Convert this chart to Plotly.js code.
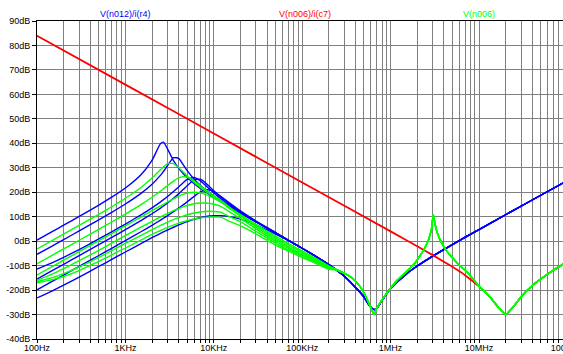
<!DOCTYPE html>
<html><head><meta charset="utf-8">
<script src="https://cdn.plot.ly/plotly-3.0.1.min.js"></script>
<style>html,body{margin:0;padding:0;overflow:hidden;background:#fff}#chart{width:620px;height:354px}</style>
</head><body><div id="chart"></div>
<script>
// shared low-frequency grid (Hz)
const freqLow = [100,150,200,300,500,700,1000,1500,2000,2500,2700,3000,3500,4000,4500,5000,6000,7000,8000,9000,10000,12000,15000,20000,30000,50000,70000,100000,150000,200000];

// V(n012)/i(r4) steps (dB)
const blue1 = [0.45,3.99,6.51,10.09,14.73,17.97,21.72,27.14,33.03,39.89,40.47,37.64,32.91,29.84,27.68,26.01,23.52,21.67,20.2,18.97,17.9,16.13,14.04,11.43,7.83,3.34,0.3,-2.9,-6.7,-9.6];
const blue2 = [-5.42,-1.89,0.62,4.18,8.71,11.79,15.18,19.52,23.26,26.99,28.55,30.92,34.13,33.8,31.25,28.84,25.34,22.93,21.13,19.69,18.47,16.52,14.29,11.56,7.89,3.37,0.3,-2.9,-6.7,-9.6];
const blue3 = [-11.4,-8.8,-6.68,-3.42,0.9,3.8,6.97,10.76,13.63,16.06,16.96,18.24,20.27,22.17,23.87,25.21,26.05,24.75,22.9,21.19,19.73,17.37,14.85,11.88,8.03,3.43,0.3,-2.9,-6.7,-9.6];
const blue4 = [-15.48,-11.96,-9.46,-5.92,-1.45,1.52,4.68,8.42,11.21,13.53,14.38,15.6,17.52,19.33,21.07,22.69,25.07,25.33,23.94,22.18,20.58,18.04,15.21,12.08,8.11,3.44,0.3,-2.9,-6.7,-9.6];
const blue5 = [-19.88,-16.36,-13.86,-10.33,-5.87,-2.92,0.24,3.84,6.48,8.6,9.36,10.41,12.04,13.49,14.83,16.09,18.31,20.0,20.89,20.9,20.28,18.35,15.64,12.37,8.24,3.5,0.3,-2.9,-6.7,-9.6];
const blue6 = [-23.2,-20.29,-18.01,-14.67,-10.35,-7.49,-4.43,-1.0,1.4,3.16,3.79,4.56,5.69,6.61,7.36,7.99,8.94,9.59,10.02,10.28,10.41,10.42,10.04,8.99,6.65,2.91,0.2,-2.9,-6.7,-9.6];

// V(n006) steps (dB)
const green1 = [-3.18,0.36,2.88,6.44,10.98,14.06,17.53,21.95,25.79,29.26,30.43,31.67,31.71,30.11,28.25,26.61,23.98,22.04,20.5,19.18,18.09,16.26,13.82,10.87,6.84,2.05,-1.0,-4.0,-7.5,-10.1];
const green2 = [-9.21,-5.67,-3.17,0.37,4.85,7.83,11.08,14.96,17.96,20.5,21.47,22.72,24.56,25.85,26.39,26.2,24.65,22.81,21.18,19.77,18.55,16.61,13.86,10.71,6.4,1.37,-1.7,-4.6,-7.9,-10.4];
const green3 = [-13.82,-10.29,-7.79,-4.27,0.18,3.12,6.25,9.83,12.48,14.4,15.09,16.01,17.31,18.34,19.11,19.63,20.0,19.73,19.11,18.34,17.54,16.01,13.37,10.26,5.86,0.66,-2.4,-5.2,-8.3,-10.6];
const green4 = [-16.05,-13.37,-11.2,-7.97,-3.74,-0.83,2.24,5.7,8.1,9.91,10.51,11.33,12.44,13.33,14.03,14.58,15.28,15.57,15.57,15.38,15.07,14.26,12.01,9.33,5.03,-0.05,-3.0,-5.7,-8.7,-10.9];
const green5 = [-16.52,-14.88,-13.3,-10.57,-6.62,-3.86,-0.9,2.38,4.69,6.42,7.01,7.77,8.8,9.61,10.26,10.78,11.5,11.93,12.14,12.2,12.15,11.85,10.01,7.88,4.01,-0.87,-3.6,-6.2,-9.1,-11.2];
const green6 = [-17.0,-15.74,-14.44,-12.02,-8.31,-5.64,-2.8,0.47,2.8,4.36,4.92,5.63,6.59,7.34,7.93,8.41,9.08,9.5,9.74,9.86,9.9,9.8,8.08,6.31,2.9,-1.6,-4.1,-6.7,-9.5,-11.5];

// high-frequency parts common to every step
const freqBlueTail = [250000,300000,400000,500000,550000,600000,650000,700000,800000,1e6,1.5e6,2e6,3e6,5e6,1e7,2e7,5e7,1e8];
const blueTail = [-12.05,-14.32,-18.87,-22.85,-25.2,-27.1,-28,-27.3,-24.2,-19.35,-13.5,-10.17,-6.09,-1.39,4.75,10.8,18.76,24.8];
const freqGreenTail = [250000,300000,350000,400000,450000,500000,550000,600000,650000,700000,800000,1e6,1.2e6,1.5e6,1.8e6,2.1e6,2.4e6,2.7e6,2.9e6,3.04e6,3.2e6,3.4e6,3.7e6,4.2e6,5e6,6e6,7.5e6,1e7,1.3e7,1.6e7,2e7,2.5e7,3e7,4e7,5e7,7e7,1e8];
const greenTail = [-11.8,-13.2,-14.5,-16.3,-18.5,-21.2,-24.2,-27.3,-30,-27.3,-24,-19.2,-15.8,-12.5,-9.8,-6.5,-3.2,0.8,5,10.8,6.5,3,0,-3.5,-6.8,-9.8,-13,-18.3,-22.3,-26.4,-30,-26.4,-22.7,-18.2,-15.5,-11.8,-8.4];

// V(n006)/i(c7) (dB)
const freqRed = [100,1e3,1e4,1e5,1e6,2e6,3e6,5e6,7e6,1e7,1.3e7,1.6e7,2e7,2.5e7,3e7,4e7,5e7,7e7,1e8];
const red = [84.0,64.0,44.0,24.0,4.0,-2.1,-5.7,-10.5,-14.0,-18.5,-22.5,-26.4,-30,-26.4,-22.7,-18.2,-15.5,-11.8,-8.4];

// axis ticks
const xTickVals = [];
const xTickText = [];
const decadeLabels = ['100Hz','1KHz','10KHz','100KHz','1MHz','10MHz','100MHz'];
for (let d = 0; d < decadeLabels.length; d++) {
  for (let m = 1; m <= 9; m++) {
    xTickVals.push(m * Math.pow(10, d + 2));
    xTickText.push(m === 1 ? decadeLabels[d] : '');
  }
}
const yTickVals = [-40,-30,-20,-10,0,10,20,30,40,50,60,70,80,90];
const yTickText = ['-40dB','-30dB','-20dB','-10dB','0dB','10dB','20dB','30dB','40dB','50dB','60dB','70dB','80dB','90dB'];

const BLUE = '#0000ff', RED = '#ff0000', GREEN = '#00ff00';
const traces = [];
function stepTrace(lowVals, tailF, tailV, color) {
  return {x: freqLow.concat(tailF), y: lowVals.concat(tailV), type: 'scatter', mode: 'lines',
          line: {color: color, width: 1.4, shape: 'spline', smoothing: 0.5}, hoverinfo: 'skip'};
}
[blue1, blue2, blue3, blue4, blue5, blue6].forEach(v => traces.push(stepTrace(v, freqBlueTail, blueTail, BLUE)));
traces.push({x: freqRed, y: red, type: 'scatter', mode: 'lines', line: {color: RED, width: 1.8, shape: 'spline', smoothing: 0.3}, hoverinfo: 'skip'});
[green1, green2, green3, green4, green5, green6].forEach(v => traces.push(stepTrace(v, freqGreenTail, greenTail, GREEN)));

const PX_PER_DEC = 88.4;
const layout = {
  width: 620, height: 354,
  margin: {l: 37, r: 20, t: 21, b: 15, pad: 0},
  paper_bgcolor: '#ffffff', plot_bgcolor: '#ffffff',
  showlegend: false,
  font: {family: '"Liberation Sans", Arial, sans-serif', size: 9, color: '#000000'},
  xaxis: {type: 'log', range: [2, 2 + 563 / PX_PER_DEC], tickmode: 'array', tickvals: xTickVals, ticktext: xTickText,
          ticks: 'outside', ticklen: 3, tickcolor: '#000', tickwidth: 1, ticklabelstandoff: -3,
          showgrid: true, gridcolor: '#808080', gridwidth: 1, zeroline: false,
          showline: true, linecolor: '#000', linewidth: 1, mirror: true, tickfont: {size: 9}},
  yaxis: {range: [-40, 90], tickmode: 'array', tickvals: yTickVals, ticktext: yTickText,
          ticks: 'outside', ticklen: 4, tickcolor: '#000', tickwidth: 1,
          showgrid: true, gridcolor: '#808080', gridwidth: 1, zeroline: false,
          showline: true, linecolor: '#000', linewidth: 1, mirror: true, tickfont: {size: 9}},
  annotations: [
    {text: 'V(n012)/i(r4)', x: 3, xref: 'x', y: 1, yref: 'paper', yanchor: 'bottom', showarrow: false, font: {color: BLUE, size: 9}},
    {text: 'V(n006)/i(c7)', x: 5.03, xref: 'x', y: 1, yref: 'paper', yanchor: 'bottom', showarrow: false, font: {color: RED, size: 9}},
    {text: 'V(n006)', x: 7, xref: 'x', y: 1, yref: 'paper', yanchor: 'bottom', showarrow: false, font: {color: GREEN, size: 9}}
  ]
};
Plotly.newPlot('chart', traces, layout, {staticPlot: true, displayModeBar: false});
</script></body></html>
